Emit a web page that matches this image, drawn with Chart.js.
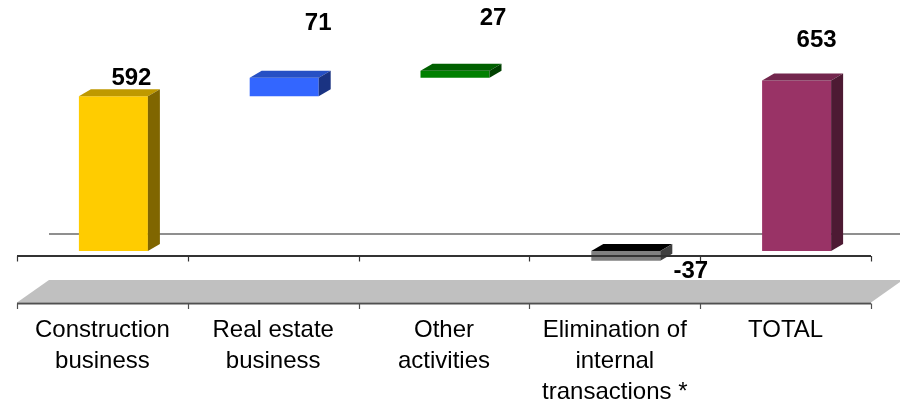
<!DOCTYPE html>
<html>
<head>
<meta charset="utf-8">
<script src="https://cdn.jsdelivr.net/npm/chart.js@4.4.1/dist/chart.umd.min.js"></script>
<style>
  html, body { margin: 0; padding: 0; background: #ffffff; }
  canvas { display: block; }
</style>
</head>
<body>
<canvas id="chart" width="900" height="407"></canvas>
<script>
// ---- data -------------------------------------------------------------
const categories = [
  ['Construction', 'business'],
  ['Real estate', 'business'],
  ['Other', 'activities'],
  ['Elimination of', 'internal', 'transactions *'],
  ['TOTAL']
];
const values = [592, 71, 27, -37, 653];
const isTotal = [false, false, false, false, true];

// ---- styling ----------------------------------------------------------
const frontColors = ['#FFCC00', '#3366FF', '#008000', '#808080', '#993366'];
const topColors   = ['#BF9900', '#2650C4', '#006000', '#000000', '#73264D'];
const sideColors  = ['#806600', '#1A3382', '#004000', '#404040', '#4D1A33'];
// where each value label sits relative to the bar's outer end [dx, dy]
const labelShift  = [[18, -11], [34, -48], [38, -46], [65, 17], [20, -33]];

// 3D projection: offsets of the floor's front edge, the back wall and the bar thickness
const FRONT = { dx: -11, dy: 5 };
const BACK  = { dx: 21,  dy: -17 };
const DEPTH = { dx: 12,  dy: -7 };

// Waterfall ranges: increments stack on the running sum, deductions hang from zero,
// totals rise from zero.
let running = 0;
const ranges = values.map((v, i) => {
  if (isTotal[i]) return [0, v];
  if (v < 0) return [v, 0];
  const r = [running, running + v];
  running += v;
  return r;
});

const FONT = '"Liberation Sans", Arial, Helvetica, sans-serif';
Chart.defaults.font.family = FONT;

function line(ctx, x1, y1, x2, y2) {
  ctx.beginPath();
  ctx.moveTo(x1, y1);
  ctx.lineTo(x2, y2);
  ctx.stroke();
}

const depthPlugin = {
  id: 'depth3d',
  beforeDatasetsDraw(chart) {
    const { ctx, chartArea: ca, scales: { x, y } } = chart;
    const zero = y.getPixelForValue(0);
    const n = categories.length;
    ctx.save();
    // floor
    const fy = ca.bottom + 4.5, by = ca.bottom - 18;
    ctx.fillStyle = '#C0C0C0';
    ctx.beginPath();
    ctx.moveTo(ca.left + FRONT.dx, fy);
    ctx.lineTo(ca.right + FRONT.dx, fy);
    ctx.lineTo(ca.right + BACK.dx, by);
    ctx.lineTo(ca.left + BACK.dx, by);
    ctx.closePath();
    ctx.fill();
    // front edge of the floor with its tick marks
    ctx.strokeStyle = '#505050';
    ctx.lineWidth = 2.2;
    line(ctx, ca.left + FRONT.dx, ca.bottom + 5.5, ca.right + FRONT.dx, ca.bottom + 5.5);
    ctx.lineWidth = 1.2;
    for (let i = 0; i <= n; i++) {
      const px = Math.round(x.getPixelForValue(i - 0.5) + FRONT.dx) + 0.5;
      line(ctx, px, ca.bottom + 5.5, px, ca.bottom + 11);
    }
    // zero line on the back wall
    ctx.strokeStyle = '#6A6A6A';
    ctx.lineWidth = 1.5;
    line(ctx, ca.left + BACK.dx, zero + BACK.dy, ca.right + BACK.dx, zero + BACK.dy);
    ctx.restore();
  },
  afterDatasetsDraw(chart) {
    const { ctx, chartArea: ca, scales: { x, y } } = chart;
    const zero = y.getPixelForValue(0);
    const meta = chart.getDatasetMeta(0);
    const n = categories.length;
    ctx.save();
    meta.data.forEach((bar, i) => {
      const p = bar.getProps(['x', 'y', 'base', 'width'], true);
      const l = p.x - p.width / 2, r = p.x + p.width / 2;
      const t = Math.min(p.y, p.base), b = Math.max(p.y, p.base);
      // top face
      ctx.fillStyle = topColors[i];
      ctx.beginPath();
      ctx.moveTo(l, t);
      ctx.lineTo(r, t);
      ctx.lineTo(r + DEPTH.dx, t + DEPTH.dy);
      ctx.lineTo(l + DEPTH.dx, t + DEPTH.dy);
      ctx.closePath();
      ctx.fill();
      // side face
      ctx.fillStyle = sideColors[i];
      ctx.beginPath();
      ctx.moveTo(r, t);
      ctx.lineTo(r + DEPTH.dx, t + DEPTH.dy);
      ctx.lineTo(r + DEPTH.dx, b + DEPTH.dy);
      ctx.lineTo(r, b);
      ctx.closePath();
      ctx.fill();
    });
    // category axis along the front at zero
    ctx.strokeStyle = '#333333';
    ctx.lineWidth = 2;
    const ay = zero + FRONT.dy;
    line(ctx, ca.left + FRONT.dx, ay, ca.right + FRONT.dx, ay);
    ctx.lineWidth = 1.2;
    for (let i = 0; i <= n; i++) {
      const px = Math.round(x.getPixelForValue(i - 0.5) + FRONT.dx) + 0.5;
      line(ctx, px, ay, px, ay + 5.5);
    }
    // value labels
    ctx.fillStyle = '#000000';
    ctx.font = 'bold 24px ' + FONT;
    ctx.textAlign = 'center';
    ctx.textBaseline = 'alphabetic';
    meta.data.forEach((bar, i) => {
      const p = bar.getProps(['x', 'y', 'base'], true);
      const end = values[i] < 0 ? Math.max(p.y, p.base) : Math.min(p.y, p.base);
      ctx.fillText(String(values[i]), p.x + labelShift[i][0], end + labelShift[i][1]);
    });
    ctx.restore();
  }
};

new Chart(document.getElementById('chart'), {
  type: 'bar',
  data: {
    labels: categories,
    datasets: [{
      data: ranges,
      backgroundColor: frontColors,
      borderWidth: 0,
      barPercentage: 0.404,
      categoryPercentage: 1
    }]
  },
  options: {
    responsive: false,
    animation: false,
    devicePixelRatio: 1,
    layout: { padding: { left: 28, right: 18, top: 42, bottom: 0 } },
    plugins: {
      legend: { display: false },
      tooltip: { enabled: false }
    },
    scales: {
      x: {
        grid: { display: false, drawTicks: false },
        border: { display: false },
        ticks: {
          color: '#000000',
          font: { size: 24, lineHeight: 1.29 },
          padding: 17,
          labelOffset: -11,
          maxRotation: 0,
          autoSkip: false
        },
        afterFit(scale) { scale.height = 109; }
      },
      y: {
        display: false,
        min: -180,
        max: 800
      }
    }
  },
  plugins: [depthPlugin]
});
</script>
</body>
</html>
